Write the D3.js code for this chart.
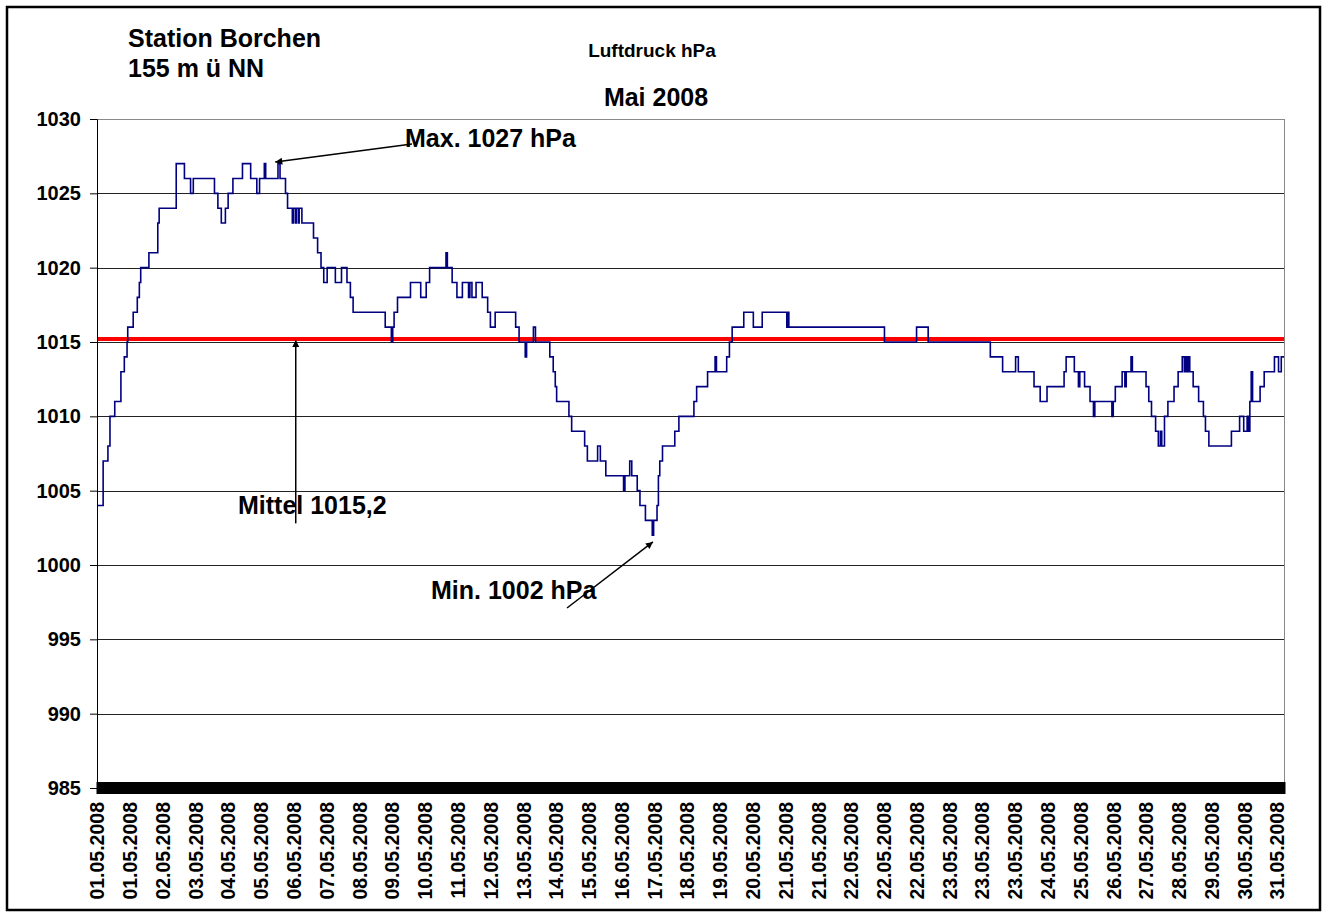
<!DOCTYPE html>
<html>
<head>
<meta charset="utf-8">
<script src="https://cdn.jsdelivr.net/npm/d3@7"></script>
<style>
  body { margin: 0; background: #fff; }
  text { font-family: "Liberation Sans", Arial, sans-serif; font-weight: bold; fill: #000; }
</style>
</head>
<body>
<div id="chart"></div>
<script>
// reading number where the pressure changes, and the new value (hPa)
var stepIndex = [0, 9, 16, 19, 26, 35, 40, 44, 45, 53, 59, 62, 64, 76, 89, 91, 116, 128, 137, 141,
  172, 177, 182, 188, 192, 199, 213, 225, 234, 238, 245, 247, 265, 268, 276, 279, 286, 288, 291, 292,
  295, 296, 300, 317, 323, 328, 332, 337, 349, 358, 366, 371, 375, 422, 431, 433, 435, 440, 459, 474,
  482, 487, 511, 513, 520, 527, 535, 544, 546, 549, 555, 564, 572, 576, 583, 613, 618, 627, 629, 639,
  642, 663, 668, 671, 673, 691, 695, 714, 718, 733, 737, 745, 771, 773, 780, 783, 791, 795, 803, 813,
  815, 820, 822, 824, 828, 846, 852, 874, 878, 894, 905, 907, 922, 926, 930, 947, 961, 974, 1010, 1011,
  1013, 1153, 1200, 1217, 1308, 1326, 1345, 1349, 1372, 1381, 1391, 1416, 1419, 1431, 1437, 1439, 1446, 1454, 1459, 1461,
  1486, 1488, 1491, 1501, 1505, 1507, 1514, 1516, 1536, 1540, 1544, 1550, 1554, 1557, 1559, 1563, 1568, 1577, 1583, 1589,
  1592, 1594, 1596, 1598, 1600, 1605, 1613, 1620, 1623, 1628, 1661, 1673, 1679, 1684, 1686, 1688, 1690, 1692, 1703, 1709,
  1724, 1730, 1734];
var pressure = [1004, 1007, 1008, 1010, 1011, 1013, 1014, 1015, 1016, 1017, 1018, 1019, 1020, 1021, 1023, 1024, 1027, 1026, 1025, 1026,
  1025, 1024, 1023, 1024, 1025, 1026, 1027, 1026, 1025, 1026, 1027, 1026, 1027, 1026, 1025, 1024, 1023, 1024, 1023, 1024,
  1023, 1024, 1023, 1022, 1021, 1020, 1019, 1020, 1019, 1020, 1019, 1018, 1017, 1016, 1015, 1016, 1017, 1018, 1019, 1018,
  1019, 1020, 1021, 1020, 1019, 1018, 1019, 1018, 1019, 1018, 1019, 1018, 1017, 1016, 1017, 1016, 1015, 1014, 1015, 1016,
  1015, 1014, 1013, 1012, 1011, 1010, 1009, 1008, 1007, 1008, 1007, 1006, 1005, 1006, 1007, 1006, 1005, 1004, 1003, 1002,
  1003, 1004, 1006, 1007, 1008, 1009, 1010, 1011, 1012, 1013, 1014, 1013, 1014, 1015, 1016, 1017, 1016, 1017, 1016, 1017,
  1016, 1015, 1016, 1015, 1014, 1013, 1014, 1013, 1012, 1011, 1012, 1013, 1014, 1013, 1012, 1013, 1012, 1011, 1010, 1011,
  1010, 1011, 1012, 1013, 1012, 1013, 1014, 1013, 1012, 1011, 1010, 1009, 1008, 1009, 1008, 1010, 1011, 1012, 1013, 1014,
  1013, 1014, 1013, 1014, 1013, 1012, 1011, 1010, 1009, 1008, 1009, 1010, 1009, 1010, 1009, 1011, 1013, 1011, 1012, 1013,
  1014, 1013, 1014];
var lastIndex = 1738;      // number of readings in the month
var labelEvery = 48;       // one date label every 48 readings
var dateLabels = ["01.05.2008", "01.05.2008", "02.05.2008", "03.05.2008", "04.05.2008", "05.05.2008",
  "06.05.2008", "07.05.2008", "08.05.2008", "09.05.2008", "10.05.2008", "11.05.2008", "12.05.2008",
  "13.05.2008", "14.05.2008", "15.05.2008", "16.05.2008", "17.05.2008", "18.05.2008", "19.05.2008",
  "20.05.2008", "21.05.2008", "21.05.2008", "22.05.2008", "22.05.2008", "22.05.2008", "23.05.2008",
  "23.05.2008", "23.05.2008", "24.05.2008", "25.05.2008", "26.05.2008", "27.05.2008", "28.05.2008",
  "29.05.2008", "30.05.2008", "31.05.2008"];
var yTicks = [985, 990, 995, 1000, 1005, 1010, 1015, 1020, 1025, 1030];
var mean = 1015.2;

var W = 1330, H = 917;
var plot = {left: 97, right: 1284, top: 119, bottom: 788};

var svg = d3.select("#chart").append("svg")
  .attr("width", W)
  .attr("height", H);

// outer chart frame
svg.append("rect")
  .attr("x", 7).attr("y", 7)
  .attr("width", 1313).attr("height", 903)
  .attr("fill", "#fff")
  .attr("stroke", "#000")
  .attr("stroke-width", 2.5);

var x = d3.scaleLinear().domain([0, lastIndex]).range([plot.left, plot.right]);
var y = d3.scaleLinear().domain([985, 1030]).range([plot.bottom, plot.top]);

// gridlines
svg.append("g").selectAll("line")
  .data(yTicks.filter(d => d > 985))
  .enter().append("line")
  .attr("x1", plot.left).attr("x2", plot.right)
  .attr("y1", d => Math.round(y(d)) + 0.5).attr("y2", d => Math.round(y(d)) + 0.5)
  .attr("stroke", d => d === 1030 ? "#888" : "#222")
  .attr("stroke-width", 1);

// right edge of plot area
svg.append("line")
  .attr("x1", plot.right + 0.5).attr("x2", plot.right + 0.5)
  .attr("y1", plot.top).attr("y2", plot.bottom)
  .attr("stroke", "#888");

// mean line
svg.append("line")
  .attr("x1", plot.left).attr("x2", plot.right)
  .attr("y1", y(mean)).attr("y2", y(mean))
  .attr("stroke", "#ff0000")
  .attr("stroke-width", 4);

// pressure curve
var pts = stepIndex.map((t, i) => [t, pressure[i]]);
pts.push([lastIndex, pressure[pressure.length - 1]]);
var line = d3.line()
  .x(d => x(d[0]))
  .y(d => y(d[1]))
  .curve(d3.curveStepAfter);
svg.append("path")
  .datum(pts)
  .attr("fill", "none")
  .attr("stroke", "#000080")
  .attr("stroke-width", 1.6)
  .attr("d", line);

// y axis
var yAxis = svg.append("g")
  .attr("transform", `translate(${plot.left},0)`)
  .call(d3.axisLeft(y).tickValues(yTicks).tickSize(7).tickPadding(9).tickFormat(d3.format("d")));
yAxis.selectAll("text").style("font-size", "20px");
yAxis.selectAll("line,path").attr("stroke", "#000");

// x axis: one tick mark per reading (dense band)
var xMarks = svg.append("g")
  .attr("transform", `translate(0,${plot.bottom})`)
  .call(d3.axisBottom(x).tickValues(d3.range(0, lastIndex + 1)).tickFormat("").tickSizeOuter(0));
xMarks.selectAll(".tick line")
  .attr("y1", -6).attr("y2", 6)
  .attr("stroke", "#000")
  .attr("stroke-width", 2);
xMarks.select(".domain").attr("stroke", "#000");

// x axis labels
var xLabels = svg.append("g")
  .attr("transform", `translate(0,${plot.bottom})`)
  .call(d3.axisBottom(x)
    .tickValues(dateLabels.map((d, i) => i * labelEvery))
    .tickFormat((d, i) => dateLabels[i])
    .tickSize(0));
xLabels.select(".domain").remove();
xLabels.selectAll("text")
  .style("font-size", "19.5px")
  .style("text-anchor", "end")
  .attr("transform", "rotate(-90)")
  .attr("x", -14)
  .attr("y", 0)
  .attr("dy", "0.35em");

// titles
svg.append("text").attr("x", 128).attr("y", 47).style("font-size", "25px").text("Station Borchen");
svg.append("text").attr("x", 128).attr("y", 77).style("font-size", "25px").text("155 m ü NN");
svg.append("text").attr("x", 652).attr("y", 57).style("font-size", "19px").style("text-anchor", "middle").text("Luftdruck hPa");
svg.append("text").attr("x", 656).attr("y", 106).style("font-size", "25px").style("text-anchor", "middle").text("Mai 2008");

// annotations
svg.append("defs").append("marker")
  .attr("id", "head")
  .attr("viewBox", "0 0 10 10")
  .attr("refX", 10).attr("refY", 5)
  .attr("markerWidth", 9).attr("markerHeight", 7)
  .attr("markerUnits", "userSpaceOnUse")
  .attr("orient", "auto")
  .append("path").attr("d", "M0,0L10,5L0,10z").attr("fill", "#000");

function arrow(x1, y1, x2, y2) {
  svg.append("line")
    .attr("x1", x1).attr("y1", y1).attr("x2", x2).attr("y2", y2)
    .attr("stroke", "#000").attr("stroke-width", 1.5)
    .attr("marker-end", "url(#head)");
}

svg.append("text").attr("x", 405).attr("y", 147).style("font-size", "25px").text("Max. 1027 hPa");
arrow(412, 144, x(261), y(1027.1));

svg.append("text").attr("x", 238).attr("y", 514).style("font-size", "25px").text("Mittel 1015,2");
arrow(x(291), y(1002.8), x(291), y(mean) + 1);

svg.append("text").attr("x", 431).attr("y", 599).style("font-size", "25px").text("Min. 1002 hPa");
arrow(567, 608, x(814), y(1001.55));
</script>
</body>
</html>
